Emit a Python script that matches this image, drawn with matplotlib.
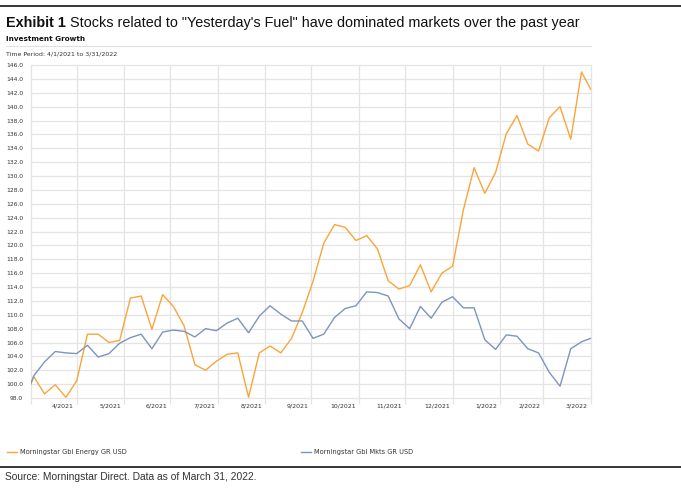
import pandas as pd
import matplotlib
matplotlib.use("Agg")
import matplotlib.pyplot as plt
import matplotlib.transforms as mtransforms

# Datos semanales (viernes), base 100 al 31/3/2021
fechas = (["2021-03-31"]
          + [d.strftime("%Y-%m-%d") for d in pd.date_range("2021-04-02", periods=52, freq="7D")]
          + ["2022-03-31"])

energia = [100.0, 101.1, 98.6, 99.9, 98.1, 100.5, 107.2, 107.2, 106.0, 106.3,
           112.4, 112.7, 107.9, 112.9, 111.2, 108.4, 102.8, 102.0, 103.3, 104.3,
           104.5, 98.1, 104.5, 105.5, 104.5, 106.6, 110.3, 114.8, 120.3, 123.0,
           122.6, 120.7, 121.4, 119.5, 114.9, 113.7, 114.2, 117.2, 113.3, 116.0,
           117.0, 125.1, 131.2, 127.5, 130.5, 136.1, 138.7, 134.6, 133.6, 138.4,
           140.0, 135.3, 145.0, 142.5]

mercados = [100.0, 101.2, 103.2, 104.7, 104.5, 104.4, 105.6, 103.9, 104.4, 105.9,
            106.7, 107.2, 105.1, 107.5, 107.8, 107.6, 106.8, 108.0, 107.7, 108.8,
            109.5, 107.4, 109.8, 111.3, 110.1, 109.1, 109.1, 106.6, 107.2, 109.6,
            110.9, 111.3, 113.3, 113.2, 112.7, 109.4, 108.0, 111.2, 109.5, 111.8,
            112.6, 111.0, 111.0, 106.4, 105.0, 107.1, 106.9, 105.1, 104.5, 101.7,
            99.7, 105.1, 106.1, 106.6]

serie_energia = "Morningstar Gbl Energy GR USD"
serie_mercados = "Morningstar Gbl Mkts GR USD"

titulo_bold = "Exhibit 1"
titulo = " Stocks related to \"Yesterday's Fuel\" have dominated markets over the past year"
subtitulo = "Investment Growth"
periodo = "Time Period: 4/1/2021 to 3/31/2022"
fuente = "Source: Morningstar Direct. Data as of March 31, 2022."

NARANJA = "#F9A53B"
AZUL = "#7D95BD"
GRIS = "#E4E4E4"
TEXTO = "#333333"
FAMILIA = ["Liberation Sans", "DejaVu Sans"]


def generar_grafico():
    x = pd.to_datetime(fechas)
    fin_mes = pd.date_range("2021-03-31", "2022-03-31", freq=pd.offsets.MonthEnd())

    fig = plt.figure(figsize=(6.81, 4.9), dpi=100)
    ax = fig.add_axes([30.7 / 681, 1 - 398 / 490, 560 / 681, 333 / 490])

    l1, = ax.plot(x, energia, color=NARANJA, lw=1.0, label=serie_energia, zorder=3)
    l2, = ax.plot(x, mercados, color=AZUL, lw=1.0, label=serie_mercados, zorder=3)

    ax.set_xlim(fin_mes[0], fin_mes[-1])
    ax.set_ylim(98, 146)
    ax.set_yticks(range(98, 147, 2))
    ax.set_yticklabels([f"{v:.1f}" for v in range(98, 147, 2)])
    ax.set_xticks(fin_mes)
    ax.set_xticklabels([])

    for s in ax.spines.values():
        s.set_visible(False)
    ax.grid(True, color=GRIS, lw=0.9)
    for g in ax.get_xgridlines() + ax.get_ygridlines():
        g.set_clip_on(False)
    ax.tick_params(axis="y", length=0, pad=5.5, labelsize=4.3, labelcolor=TEXTO)
    ax.tick_params(axis="x", length=4, color=GRIS, width=0.9)

    # etiquetas de mes a la izquierda de cada linea de fin de mes
    trans = mtransforms.blended_transform_factory(ax.transData, ax.transAxes)
    trans = trans + mtransforms.ScaledTranslation(-3 / 100, -8 / 100, fig.dpi_scale_trans)
    for d in fin_mes[1:]:
        ax.text(d, 0, f"{d.month}/{d.year}", transform=trans, ha="right", va="center",
                fontsize=4.5, color=TEXTO)

    # leyenda
    for linea, xpos in [(l1, 7 / 681), (l2, 301 / 681)]:
        fig.legend(handles=[linea], loc="center left", bbox_to_anchor=(xpos, 1 - 452 / 490),
                   frameon=False, fontsize=4.8, handlelength=1.5, handletextpad=0.4,
                   borderpad=0, borderaxespad=0, labelcolor=TEXTO)

    # cabecera
    fig.add_artist(plt.Line2D([0, 1], [1 - 6 / 490] * 2, color="black", lw=1.1))
    t1 = fig.text(6 / 681, 1 - 23 / 490, titulo_bold, fontsize=10.4, fontweight="bold",
                  family=FAMILIA, va="center", color="#111111")
    ax.annotate(titulo, xy=(1, 0.5), xycoords=t1, va="center", ha="left", fontsize=10.4,
                family=FAMILIA, color="#111111", annotation_clip=False)

    fig.text(6 / 681, 1 - 39 / 490, subtitulo, fontsize=5.2, fontweight="bold", va="center",
             color="#111111")
    fig.add_artist(plt.Line2D([6 / 681, 591 / 681], [1 - 46.5 / 490] * 2, color="#E0E0E0", lw=0.8))
    fig.text(6 / 681, 1 - 53.5 / 490, periodo, fontsize=4.5, va="center", color=TEXTO)

    # pie
    fig.add_artist(plt.Line2D([0, 1], [1 - 467 / 490] * 2, color="black", lw=1.1))
    fig.text(5 / 681, 1 - 477 / 490, fuente, fontsize=7.4, family=FAMILIA,
             va="center", color=TEXTO)

    fig.savefig("out.png", dpi=100)


if __name__ == "__main__":
    generar_grafico()
